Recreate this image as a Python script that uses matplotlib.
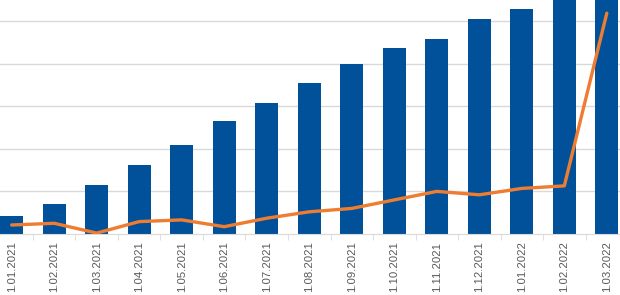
import numpy as np
import matplotlib
matplotlib.use("Agg")
import matplotlib.pyplot as plt

# data (y in gridline units)
dates = ["1.01.2021", "1.02.2021", "1.03.2021", "1.04.2021", "1.05.2021",
         "1.06.2021", "1.07.2021", "1.08.2021", "1.09.2021", "1.10.2021",
         "1.11.2021", "1.12.2021", "1.01.2022", "1.02.2022", "1.03.2022"]
bar_values = [0.41, 0.71, 1.15, 1.62, 2.09, 2.66, 3.07, 3.55, 4.00, 4.38,
              4.59, 5.06, 5.30, 5.80, 6.00]
line_values = [0.21, 0.25, 0.02, 0.29, 0.33, 0.17, 0.37, 0.52, 0.60, 0.80,
               1.00, 0.92, 1.07, 1.13, 5.19]

fig = plt.figure(figsize=(6.2, 2.95), dpi=100)
ax = fig.add_axes([0, 0.207, 1, 0.793])

x = np.arange(len(dates))
ax.bar(x, bar_values, width=0.54, color="#00519A", zorder=2)
ax.plot(x, line_values, color="#EE7D31", lw=2.4, solid_joinstyle="round",
        solid_capstyle="round", zorder=3)

ax.set_xlim(-0.275, 14.31)
ax.set_ylim(0, 5.5)
ax.set_yticks([1, 2, 3, 4, 5])
ax.yaxis.grid(True, color="#D9D9D9", lw=1)
ax.set_axisbelow(True)
ax.tick_params(axis="y", left=False, labelleft=False)

for s in ["top", "left", "right"]:
    ax.spines[s].set_visible(False)
ax.spines["bottom"].set_color("#D9D9D9")

ax.set_xticks(x)
ax.set_xticklabels(dates, rotation=90, fontsize=8.2, color="#595959",
                   family="Liberation Sans")
ax.tick_params(axis="x", length=0, pad=5.5)
ax.set_xticks(x[:-1] + 0.5, minor=True)
ax.tick_params(axis="x", which="minor", length=4, color="#D9D9D9")

fig.savefig("out.png", dpi=100)
